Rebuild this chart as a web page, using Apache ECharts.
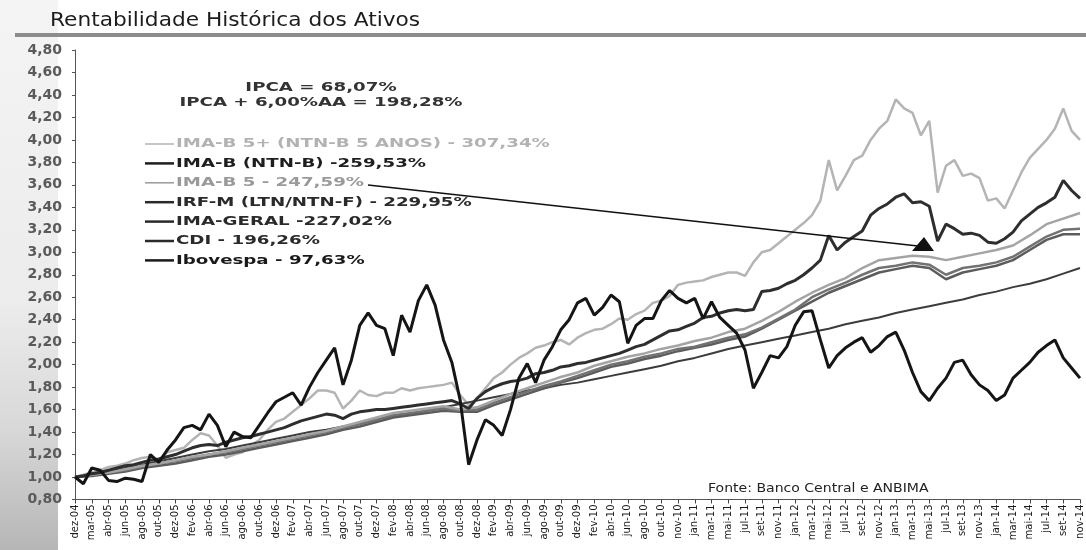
<!DOCTYPE html>
<html><head><meta charset="utf-8">
<script src="https://cdn.jsdelivr.net/npm/echarts@6/dist/echarts.min.js"></script>
<style>html,body{margin:0;padding:0;background:#fff}#c{width:1086px;height:550px}</style>
</head><body><div id="c"></div><script>
// x-axis tick labels (one per axis unit)
const xLabels = ['dez-04','mar-05','abr-05','jun-05','ago-05','out-05','dez-05','fev-06','abr-06','jun-06','ago-06','out-06','dez-06','fev-07','abr-07','jun-07','ago-07','out-07','dez-07','fev-08','abr-08','jun-08','ago-08','out-08','dez-08','fev-09','abr-09','jun-09','ago-09','out-09','dez-09','fev-10','abr-10','jun-10','ago-10','out-10','nov-10','jan-11','mar-11','mai-11','jul-11','set-11','nov-11','jan-12','mar-12','mai-12','jul-12','set-12','nov-12','jan-13','mar-13','mai-13','jul-13','set-13','nov-13','jan-14','mar-14','mai-14','jul-14','set-14','nov-14'];

// noisy series: sampled every half label step
const ibovespa = [1.00,0.94,1.08,1.06,0.97,0.96,0.99,0.98,0.96,1.20,
 1.13,1.24,1.33,1.44,1.46,1.42,1.56,1.46,1.27,1.40,
 1.36,1.35,1.46,1.57,1.67,1.71,1.75,1.64,1.80,1.93,
 2.04,2.15,1.82,2.04,2.35,2.46,2.35,2.32,2.08,2.44,
 2.29,2.57,2.71,2.53,2.22,2.02,1.68,1.11,1.33,1.51,
 1.46,1.37,1.60,1.88,2.01,1.84,2.04,2.16,2.31,2.40,
 2.55,2.59,2.44,2.51,2.62,2.56,2.19,2.35,2.41,2.41,
 2.57,2.66,2.59,2.55,2.59,2.41,2.56,2.42,2.35,2.28,
 2.13,1.79,1.93,2.08,2.06,2.16,2.35,2.47,2.48,2.22,
 1.97,2.08,2.15,2.20,2.24,2.11,2.17,2.25,2.29,2.13,
 1.93,1.76,1.68,1.79,1.88,2.02,2.04,1.91,1.82,1.77,
 1.68,1.73,1.88,1.95,2.02,2.11,2.17,2.22,2.06,1.97,
 1.88];
const imab5plus = [1.00,1.02,1.04,1.06,1.09,1.10,1.12,1.15,1.17,1.18,
 1.15,1.22,1.24,1.26,1.33,1.39,1.37,1.28,1.17,1.20,
 1.22,1.28,1.33,1.42,1.49,1.52,1.58,1.64,1.70,1.77,
 1.77,1.75,1.61,1.68,1.77,1.73,1.72,1.75,1.75,1.79,
 1.77,1.79,1.80,1.81,1.82,1.84,1.73,1.64,1.70,1.79,
 1.88,1.93,2.00,2.06,2.10,2.15,2.17,2.20,2.22,2.18,
 2.24,2.28,2.31,2.32,2.36,2.41,2.40,2.45,2.48,2.55,
 2.57,2.61,2.71,2.73,2.74,2.75,2.78,2.80,2.82,2.82,
 2.79,2.91,3.00,3.02,3.08,3.14,3.20,3.26,3.33,3.46,
 3.82,3.55,3.68,3.82,3.86,4.00,4.10,4.17,4.36,4.28,
 4.24,4.04,4.17,3.53,3.77,3.82,3.68,3.70,3.66,3.46,
 3.48,3.39,3.55,3.71,3.84,3.92,4.00,4.10,4.28,4.08,
 4.00];
const imab = [1.00,1.01,1.03,1.04,1.06,1.08,1.10,1.11,1.13,1.15,
 1.16,1.18,1.20,1.23,1.26,1.28,1.29,1.28,1.31,1.33,
 1.35,1.36,1.38,1.40,1.42,1.44,1.47,1.50,1.52,1.54,
 1.56,1.55,1.52,1.56,1.58,1.59,1.60,1.60,1.61,1.62,
 1.63,1.64,1.65,1.66,1.67,1.68,1.65,1.61,1.70,1.76,
 1.80,1.83,1.85,1.86,1.88,1.92,1.93,1.95,1.98,1.99,
 2.01,2.02,2.04,2.06,2.08,2.10,2.13,2.16,2.18,2.22,
 2.26,2.30,2.31,2.34,2.37,2.42,2.43,2.46,2.48,2.49,
 2.48,2.49,2.65,2.66,2.68,2.72,2.75,2.80,2.86,2.93,
 3.15,3.02,3.09,3.14,3.19,3.33,3.39,3.43,3.49,3.52,
 3.44,3.45,3.41,3.10,3.25,3.21,3.16,3.17,3.15,3.09,
 3.08,3.12,3.18,3.28,3.34,3.40,3.44,3.49,3.64,3.55,
 3.48];

// smoother series: one value per label step
const imab5 = [1.00,1.02,1.04,1.07,1.10,1.12,1.15,1.18,1.20,1.23,
 1.26,1.29,1.32,1.35,1.38,1.41,1.45,1.49,1.53,1.57,
 1.59,1.61,1.63,1.60,1.62,1.68,1.74,1.79,1.84,1.89,
 1.93,1.99,2.03,2.07,2.10,2.14,2.17,2.21,2.24,2.29,
 2.32,2.39,2.47,2.56,2.64,2.71,2.77,2.86,2.93,2.95,
 2.97,2.96,2.93,2.96,2.99,3.02,3.06,3.15,3.25,3.30,
 3.35];
const irfm = [1.00,1.02,1.04,1.06,1.09,1.12,1.14,1.17,1.20,1.22,
 1.25,1.28,1.31,1.34,1.37,1.40,1.44,1.47,1.51,1.55,
 1.57,1.59,1.61,1.59,1.60,1.66,1.71,1.76,1.81,1.85,
 1.90,1.95,2.00,2.03,2.07,2.10,2.14,2.16,2.20,2.24,
 2.27,2.33,2.41,2.49,2.60,2.67,2.73,2.80,2.86,2.88,
 2.91,2.89,2.80,2.86,2.88,2.91,2.96,3.05,3.14,3.20,
 3.21];
const imaGeral = [1.00,1.01,1.03,1.05,1.08,1.10,1.12,1.15,1.18,1.20,
 1.23,1.26,1.29,1.32,1.35,1.38,1.42,1.45,1.49,1.53,
 1.55,1.57,1.59,1.58,1.58,1.64,1.69,1.74,1.79,1.84,
 1.88,1.93,1.98,2.01,2.05,2.08,2.12,2.15,2.18,2.22,
 2.25,2.32,2.40,2.48,2.56,2.64,2.70,2.76,2.82,2.85,
 2.88,2.86,2.76,2.82,2.85,2.88,2.93,3.02,3.11,3.16,
 3.16];
const cdi = [1.00,1.03,1.06,1.08,1.11,1.14,1.17,1.20,1.23,1.25,
 1.28,1.31,1.34,1.37,1.40,1.42,1.45,1.48,1.51,1.54,
 1.56,1.59,1.62,1.65,1.68,1.71,1.74,1.77,1.79,1.82,
 1.84,1.87,1.90,1.93,1.96,1.99,2.03,2.06,2.10,2.14,
 2.17,2.20,2.23,2.26,2.29,2.32,2.36,2.39,2.42,2.46,
 2.49,2.52,2.55,2.58,2.62,2.65,2.69,2.72,2.76,2.81,
 2.86];

const legendLabels = ['IMA-B 5+ (NTN-B 5 ANOS) - 307,34%','IMA-B (NTN-B) -259,53%','IMA-B 5 - 247,59%','IRF-M (LTN/NTN-F) - 229,95%','IMA-GERAL -227,02%','CDI - 196,26%','Ibovespa - 97,63%'];
const ipcaLines = ['IPCA = 68,07%','IPCA + 6,00%AA = 198,28%'];
const titleText = 'Rentabilidade Histórica dos Ativos';
const sourceText = 'Fonte: Banco Central e ANBIMA';

function pts(arr, step){ return arr.map((v,j)=>[j*step, v]); }

const seriesDefs = [
 {name:'IMA-B 5+ (NTN-B 5 ANOS)', arr:imab5plus, step:0.5, color:'#b4b4b4', width:2.5},
 {name:'CDI', arr:cdi, step:1, color:'#3c3c3c', width:2},
 {name:'IMA-GERAL', arr:imaGeral, step:1, color:'#5c5c5c', width:2.5},
 {name:'IRF-M (LTN/NTN-F)', arr:irfm, step:1, color:'#727272', width:2.5},
 {name:'IMA-B 5', arr:imab5, step:1, color:'#a4a4a4', width:2.5},
 {name:'IMA-B (NTN-B)', arr:imab, step:0.5, color:'#2e2e2e', width:3},
 {name:'Ibovespa', arr:ibovespa, step:0.5, color:'#151515', width:3}
];

const legendColors = ['#b2b2b2','#1e1e1e','#9a9a9a','#2a2a2a','#2a2a2a','#2a2a2a','#1a1a1a'];
const legendLineW = [1.5,2.5,1.5,2.5,2.5,2.5,2.5];
const SX = 1.40;
const FONT = '"DejaVu Sans", Verdana, sans-serif';

const graphics = [
 {type:'rect', z:-5, shape:{x:0,y:0,width:58,height:550},
  style:{fill:{type:'linear',x:0,y:0,x2:0,y2:1,colorStops:[
   {offset:0,color:'#f4f4f4'},{offset:0.55,color:'#ececec'},{offset:0.78,color:'#d8d8d8'},{offset:1,color:'#b6b6b6'}]}}},
 {type:'text', x:50, y:21, z:10, scaleX:1.085, style:{text:titleText, font:'20px '+FONT, fill:'#1c1c1c', verticalAlign:'middle'}},
 {type:'rect', z:10, shape:{x:15,y:33,width:1071,height:4}, style:{fill:'#8c8c8c'}},
 {type:'text', x:321, y:88, z:10, scaleX:SX, style:{text:ipcaLines[0], font:'bold 13px '+FONT, fill:'#333', align:'center', verticalAlign:'middle'}},
 {type:'text', x:321, y:103, z:10, scaleX:SX, style:{text:ipcaLines[1], font:'bold 13px '+FONT, fill:'#333', align:'center', verticalAlign:'middle'}},
 {type:'line', z:10, shape:{x1:368,y1:185,x2:918,y2:246}, style:{stroke:'#111', lineWidth:1.5}},
 {type:'polygon', z:10, shape:{points:[[912,251],[934,251],[924,237]]}, style:{fill:'#111'}},
 {type:'text', x:708, y:489, z:10, scaleX:1.17, style:{text:sourceText, font:'12px '+FONT, fill:'#222', verticalAlign:'middle'}}
];
legendLabels.forEach((t,j)=>{
 const y = 144 + 19.4*j;
 graphics.push({type:'line', z:10, shape:{x1:145,y1:y,x2:174,y2:y}, style:{stroke:legendColors[j], lineWidth:legendLineW[j]}});
 graphics.push({type:'text', x:176, y:y, z:10, scaleX:SX, style:{text:t, font:'bold 13px '+FONT, fill:legendColors[j], verticalAlign:'middle'}});
});

const chart = echarts.init(document.getElementById('c'), null, {renderer:'canvas'});
chart.setOption({
 backgroundColor:'#ffffff',
 animation:false,
 grid:{left:75, right:6, top:50, bottom:50.5, containLabel:false},
 xAxis:{type:'value', min:0, max:xLabels.length-1, interval:1,
  axisLine:{show:true, onZero:false, lineStyle:{color:'#555', width:1}},
  axisTick:{show:true, length:4, lineStyle:{color:'#444'}},
  splitLine:{show:false},
  axisLabel:{rotate:90, margin:5, fontSize:10, fontFamily:FONT, color:'#1a1a1a',
   formatter:v=>xLabels[Math.round(v)] || ''}},
 yAxis:{type:'value', min:0.8, max:4.8, interval:0.2,
  axisLine:{show:true, lineStyle:{color:'#555', width:1}},
  axisTick:{show:true, length:3, lineStyle:{color:'#555'}},
  splitLine:{show:false},
  axisLabel:{margin:13, fontSize:14, fontWeight:'bold', fontFamily:FONT, color:'#5a5a5a',
   formatter:v=>v.toFixed(2).replace('.', ',')}},
 series: seriesDefs.map(s=>({
  name:s.name, type:'line', data:pts(s.arr, s.step), showSymbol:false, symbol:'none',
  lineStyle:{color:s.color, width:s.width}, itemStyle:{color:s.color}, silent:true
 })),
 graphic:{elements:graphics}
});
</script></body></html>
